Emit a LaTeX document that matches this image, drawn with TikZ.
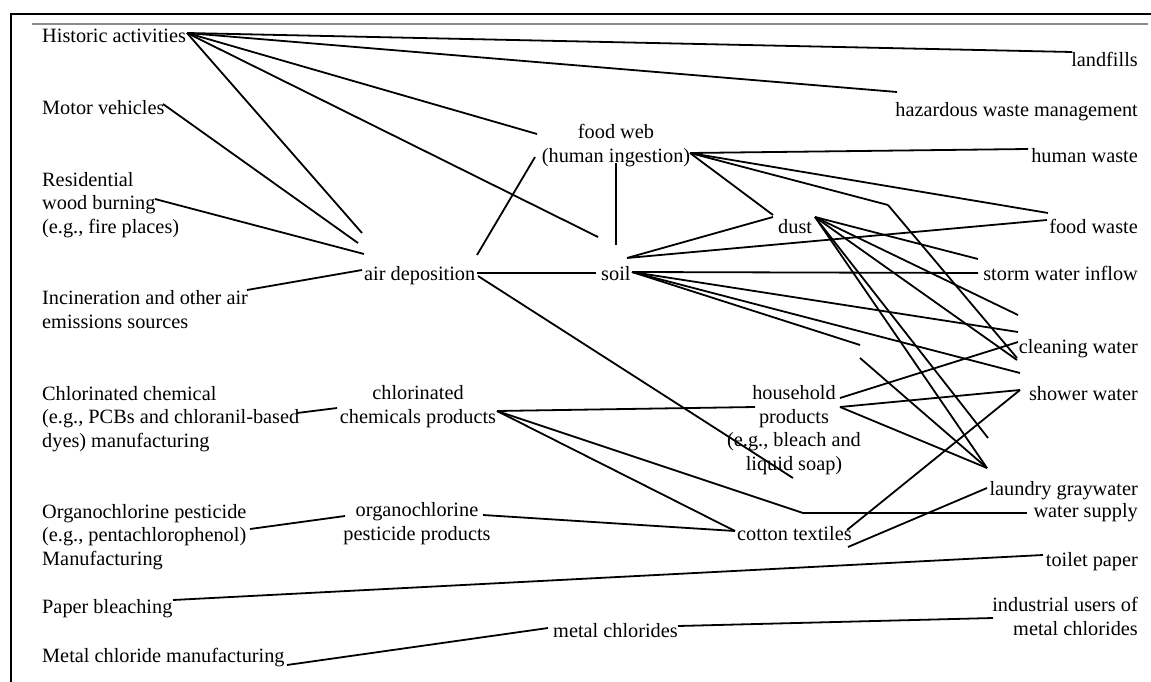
\documentclass[tikz,border=0pt]{standalone}
\usepackage{fontspec}
\setmainfont{Liberation Serif}
\begin{document}
\begin{tikzpicture}[x=1pt,y=-1pt,
  lbl/.style={inner sep=0pt,font=\fontsize{20.3}{23.4}\selectfont},
  lblL/.style={lbl,anchor=base west,align=left},
  lblR/.style={lbl,anchor=base east,align=right},
  lblC/.style={lbl,anchor=base,align=center},
  ln/.style={line width=1.8pt,black},
  frame/.style={line width=2pt,black}]
\useasboundingbox (0,0) rectangle (1151,682);
% frame
\coordinate (fTL) at (11,14);
\coordinate (fTR) at (1151,14);
\coordinate (fBL) at (11,682);
\draw[frame] (fTR) -- (fTL) -- (fBL);
\coordinate (gL) at (32,24);
\coordinate (gR) at (1148,24);
\draw[line width=1.5pt,black!45] (gL) -- (gR);

% left labels (anchor = baseline of last line)
\node[lblL] (hist) at (42,43) {Historic activities};
\node[lblL] (motor) at (42,115) {Motor vehicles};
\node[lblL] (resid) at (42,233) {Residential\\wood burning\\(e.g., fire places)};
\node[lblL] (incin) at (42,328) {Incineration and other air\\emissions sources};
\node[lblL] (chlman) at (42,447) {Chlorinated chemical\\(e.g., PCBs and chloranil-based\\dyes) manufacturing};
\node[lblL] (orgman) at (42,565) {Organochlorine pesticide\\(e.g., pentachlorophenol)\\Manufacturing};
\node[lblL] (paper) at (42,613) {Paper bleaching};
\node[lblL] (metman) at (42,662) {Metal chloride manufacturing};

% middle labels
\node[lblC] (food) at (616,162) {food web\\(human ingestion)};
\node[lblL] (air) at (364,280) {air deposition};
\node[lblL] (soil) at (601,280) {soil};
\node[lblL] (dust) at (778,233) {dust};
\node[lblC] (chemp) at (418,423) {chlorinated\\chemicals products};
\node[lblC] (house) at (794,470) {household\\products\\(e.g., bleach and\\liquid soap)};
\node[lblC] (orgp) at (417,540) {organochlorine\\pesticide products};
\node[lblL] (cotton) at (737,540) {cotton textiles};
\node[lblL] (metal) at (553,637) {metal chlorides};

% right labels
\node[lblR] (landf) at (1138,67) {landfills};
\node[lblR] (haz) at (1138,117) {hazardous waste management};
\node[lblR] (humw) at (1138,162) {human waste};
\node[lblR] (foodw) at (1138,233) {food waste};
\node[lblR] (storm) at (1138,280) {storm water inflow};
\node[lblR] (clean) at (1138,353) {cleaning water};
\node[lblR] (shower) at (1138,400) {shower water};
\node[lblR] (laund) at (1138,495) {laundry graywater};
\node[lblR] (wsup) at (1138,517) {water supply};
\node[lblR] (toilet) at (1138,566) {toilet paper};
\node[lblR] (indus) at (1138,635) {industrial users of\\metal chlorides};

% connector end points
\coordinate (H) at (187,33);
\coordinate (hLand) at (1072,52);
\coordinate (hHaz) at (897,92);
\coordinate (hFood) at (537,134);
\coordinate (hSoil) at (598,237);
\coordinate (hAir) at (362,233);
\coordinate (mv) at (163,104);
\coordinate (mvAir) at (358,243);
\coordinate (rw) at (155,199);
\coordinate (rwAir) at (364,254);
\coordinate (inc) at (247,290);
\coordinate (incAir) at (362,270);
\coordinate (aUp) at (477,255);
\coordinate (aFood) at (535,157);
\coordinate (aR) at (477,273);
\coordinate (aSoil) at (596,273);
\coordinate (aDn) at (478,276);
\coordinate (aEnd) at (793,478);
\coordinate (fDn) at (616,163);
\coordinate (fSoil) at (616,245);
\coordinate (F) at (690,153);
\coordinate (fHum) at (1028,149);
\coordinate (fFw) at (1048,213);
\coordinate (fMid) at (888,205);
\coordinate (fDust) at (773,215);
\coordinate (midEnd) at (1017,358);
\coordinate (sUp) at (627,258);
\coordinate (sDust) at (773,217);
\coordinate (sFw) at (1047,220);
\coordinate (S) at (632,272);
\coordinate (sStorm) at (978,273);
\coordinate (s1) at (1018,332);
\coordinate (s2) at (1020,373);
\coordinate (s3) at (860,345);
\coordinate (D) at (815,217);
\coordinate (d1) at (978,259);
\coordinate (d2) at (1018,315);
\coordinate (d3) at (1017,360);
\coordinate (d4) at (988,438);
\coordinate (LA) at (987,468);
\coordinate (x1) at (860,358);
\coordinate (cm1) at (297,413);
\coordinate (cm2) at (337,408);
\coordinate (C) at (497,411);
\coordinate (cHouse) at (755,407);
\coordinate (W) at (803,513);
\coordinate (wEnd) at (1027,513);
\coordinate (cCot) at (735,531);
\coordinate (hh1) at (840,398);
\coordinate (hhClean) at (1018,342);
\coordinate (hh2) at (840,407);
\coordinate (hhShower) at (1020,390);
\coordinate (ct1) at (847,530);
\coordinate (ct2) at (848,547);
\coordinate (LB) at (987,488);
\coordinate (om1) at (250,529);
\coordinate (om2) at (345,516);
\coordinate (op1) at (483,515);
\coordinate (pb1) at (173,600);
\coordinate (pb2) at (1043,555);
\coordinate (mc1) at (287,665);
\coordinate (mc2) at (548,628);
\coordinate (mc3) at (678,626);
\coordinate (mc4) at (993,618);

% connectors
\draw[ln] (H) -- (hLand);
\draw[ln] (H) -- (hHaz);
\draw[ln] (H) -- (hFood);
\draw[ln] (H) -- (hSoil);
\draw[ln] (H) -- (hAir);
\draw[ln] (mv) -- (mvAir);
\draw[ln] (rw) -- (rwAir);
\draw[ln] (inc) -- (incAir);
\draw[ln] (aUp) -- (aFood);
\draw[ln] (aR) -- (aSoil);
\draw[ln] (aDn) -- (aEnd);
\draw[ln] (fDn) -- (fSoil);
\draw[ln] (F) -- (fHum);
\draw[ln] (F) -- (fFw);
\draw[ln] (F) -- (fMid);
\draw[ln] (F) -- (fDust);
\draw[ln] (fMid) -- (midEnd);
\draw[ln] (sUp) -- (sDust);
\draw[ln] (sUp) -- (sFw);
\draw[ln] (S) -- (sStorm);
\draw[ln] (S) -- (s1);
\draw[ln] (S) -- (s2);
\draw[ln] (S) -- (s3);
\draw[ln] (D) -- (d1);
\draw[ln] (D) -- (d2);
\draw[ln] (D) -- (d3);
\draw[ln] (D) -- (d4);
\draw[ln] (D) -- (LA);
\draw[ln] (x1) -- (LA);
\draw[ln] (cm1) -- (cm2);
\draw[ln] (C) -- (cHouse);
\draw[ln] (C) -- (W);
\draw[ln] (W) -- (wEnd);
\draw[ln] (C) -- (cCot);
\draw[ln] (hh1) -- (hhClean);
\draw[ln] (hh2) -- (hhShower);
\draw[ln] (hh2) -- (LA);
\draw[ln] (ct1) -- (hhShower);
\draw[ln] (ct2) -- (LB);
\draw[ln] (om1) -- (om2);
\draw[ln] (op1) -- (cCot);
\draw[ln] (pb1) -- (pb2);
\draw[ln] (mc1) -- (mc2);
\draw[ln] (mc3) -- (mc4);
\end{tikzpicture}
\end{document}
